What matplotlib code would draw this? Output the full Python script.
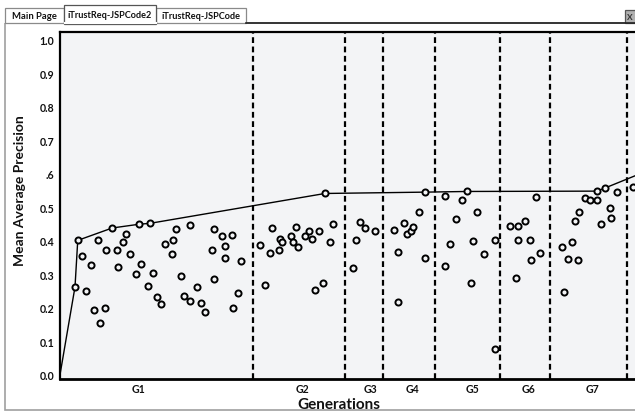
import matplotlib
matplotlib.use("Agg")
import matplotlib.pyplot as plt
from matplotlib.patches import Rectangle

plt.rcParams['font.family'] = ['Lato', 'DejaVu Sans']

# non-dominated front (joined by the line)
front_x = [0.0, 6.0, 7.1, 20.9, 31.5, 36.1, 106.0, 146.1, 162.9, 214.7, 217.9, 238.0]
front_y = [0.0, 0.262, 0.401, 0.438, 0.449, 0.452, 0.541, 0.545, 0.547, 0.548, 0.557, 0.618]

# remaining solutions
pts_x = [8.8, 10.4, 12.4, 13.6, 15.3, 16.0, 18.1, 18.5, 22.7, 23.1, 25.1, 26.4, 28.1,
         30.4, 32.5, 35.1, 37.3, 38.9, 40.3, 42.1, 44.7, 45.3, 46.3, 48.4, 49.5, 51.9,
         52.1, 54.9, 56.4, 58.0, 60.9, 61.7, 61.7, 64.7, 66.1, 66.0, 68.8, 69.2, 71.2, 72.5,
         80.0, 82.0, 84.0, 84.9, 87.5, 87.9, 88.9, 92.3, 93.3, 94.3, 95.3, 98.0, 99.6,
         100.8, 101.9, 103.5, 105.2, 108.1, 109.1,
         117.3, 118.5, 120.0, 122.0, 126.0,
         133.7, 135.2, 135.3, 137.5, 138.9, 140.5, 141.2, 143.5, 145.9,
         153.9, 154.1, 156.0, 158.4, 160.7, 164.4, 165.3, 166.9, 169.5, 173.9, 173.9,
         180.1, 182.4, 183.1, 183.1, 186.0, 187.9, 188.3, 190.4, 192.1,
         200.8, 201.6, 203.2, 204.8, 206.1, 207.3, 207.7, 209.9, 212.0, 214.9, 216.3,
         220.0, 220.3, 222.8, 229.2]
pts_y = [0.355, 0.250, 0.327, 0.194, 0.402, 0.153, 0.199, 0.372, 0.371, 0.321, 0.395, 0.420, 0.360,
         0.302, 0.330, 0.265, 0.303, 0.232, 0.210, 0.389, 0.359, 0.402, 0.436, 0.294, 0.235, 0.219,
         0.446, 0.261, 0.213, 0.188, 0.372, 0.434, 0.287, 0.413, 0.384, 0.347, 0.416, 0.198, 0.245, 0.339,
         0.386, 0.269, 0.364, 0.439, 0.372, 0.404, 0.397, 0.415, 0.397, 0.440, 0.381, 0.413, 0.430,
         0.406, 0.252, 0.428, 0.275, 0.395, 0.451,
         0.318, 0.403, 0.456, 0.438, 0.428,
         0.431, 0.366, 0.216, 0.452, 0.419, 0.430, 0.440, 0.485, 0.348,
         0.325, 0.532, 0.391, 0.465, 0.523, 0.274, 0.398, 0.485, 0.361, 0.402, 0.078,
         0.445, 0.288, 0.444, 0.402, 0.458, 0.402, 0.343, 0.529, 0.364,
         0.380, 0.248, 0.346, 0.397, 0.460, 0.343, 0.487, 0.527, 0.523, 0.521, 0.451,
         0.498, 0.469, 0.545, 0.560]

gen_bounds = [77.3, 114.0, 129.1, 150.0, 176.0, 196.0, 226.9]
gen_pos = [31.6, 97.1, 124.3, 141.2, 165.2, 187.2, 213.2]
gen_labels = ['G1', 'G2', 'G3', 'G4', 'G5', 'G6', 'G7']

y_ticks = [0.0, 0.1, 0.2, 0.3, 0.4, 0.5, 0.6, 0.7, 0.8, 0.9, 1.0]
y_labels = ['0.0', '0.1', '0.2', '0.3', '0.4', '0.5', '.6', '0.7', '0.8', '0.9', '1.0']

tabs = ['Main Page', 'iTrustReq-JSPCode2', 'iTrustReq-JSPCode']

W, H = 635, 414
fig = plt.figure(figsize=(W / 100, H / 100), dpi=100)
fig.patch.set_facecolor('white')

# window chrome drawn in pixel coordinates
bg = fig.add_axes([0, 0, 1, 1])
bg.set_xlim(0, W)
bg.set_ylim(H, 0)
bg.axis('off')
bg.add_patch(Rectangle((5, 23.5), W, 388, fill=False, edgecolor='#a0a0a0', lw=1.2))
bg.plot([246, W], [23.5, 23.5], color='#222222', lw=1.2)
bg.add_patch(Rectangle((5, 9), 59, 14.5, facecolor='white', edgecolor='#8a8a8a', lw=0.9))
bg.add_patch(Rectangle((156, 9), 90, 14.5, facecolor='white', edgecolor='#8a8a8a', lw=0.9))
bg.add_patch(Rectangle((64, 6), 92, 18.5, facecolor='white', edgecolor='#555555', lw=0.9))
bg.plot([64.5, 155.5], [24, 24], color='white', lw=1.5)
bg.text(34.5, 16.5, tabs[0], ha='center', va='center', fontsize=6.8, fontweight='bold', color='#111111')
bg.text(110, 15, tabs[1], ha='center', va='center', fontsize=6.6, fontweight='bold', color='#111111')
bg.text(201, 16.5, tabs[2], ha='center', va='center', fontsize=6.6, fontweight='bold', color='#111111')
bg.add_patch(Rectangle((625, 11), 12, 13, facecolor='#b0b0b0', edgecolor='#555555', lw=0.9))
bg.text(630, 17.5, 'X', ha='center', va='center', fontsize=6, fontweight='bold', color='#333333')

ax = fig.add_axes([60 / W, 1 - 380 / H, 600 / W, 347 / H])
ax.set_facecolor('#f3f4f6')
ax.set_xlim(0, 240)
ax.set_ylim(-0.0128, 1.023)

for b in gen_bounds:
    ax.axvline(b, color='black', lw=1.6, linestyle=(0, (2.6, 1.6)), zorder=2)

ax.plot(front_x, front_y, color='black', lw=1.0, zorder=3)
ax.plot(front_x[1:], front_y[1:], linestyle='none', marker='o', markersize=4.4,
        markerfacecolor='#f3f4f6', markeredgecolor='black', markeredgewidth=1.4, zorder=4)
ax.plot(pts_x, pts_y, linestyle='none', marker='o', markersize=4.4,
        markerfacecolor='#f3f4f6', markeredgecolor='black', markeredgewidth=1.4, zorder=4)

ax.set_yticks(y_ticks)
ax.set_yticklabels(y_labels, fontsize=7.6, fontweight='bold', color='#111111')
ax.set_xticks(gen_pos)
ax.set_xticklabels(gen_labels, fontsize=7.6, fontweight='bold', color='#111111')
ax.tick_params(axis='both', length=0)
ax.tick_params(axis='y', pad=4)
ax.tick_params(axis='x', pad=3)

for side in ['left', 'top']:
    ax.spines[side].set_linewidth(1.6)
ax.spines['bottom'].set_linewidth(2.0)
ax.spines['right'].set_visible(False)

fig.text(339 / W, 1 - 405 / H, 'Generations', ha='center', va='center',
         fontsize=11, fontweight='bold', color='#111111')
fig.text(20 / W, 1 - 191 / H, 'Mean Average Precision', ha='center', va='center',
         rotation=90, fontsize=10, fontweight='bold', color='#111111')

fig.savefig('out.png', dpi=100)
